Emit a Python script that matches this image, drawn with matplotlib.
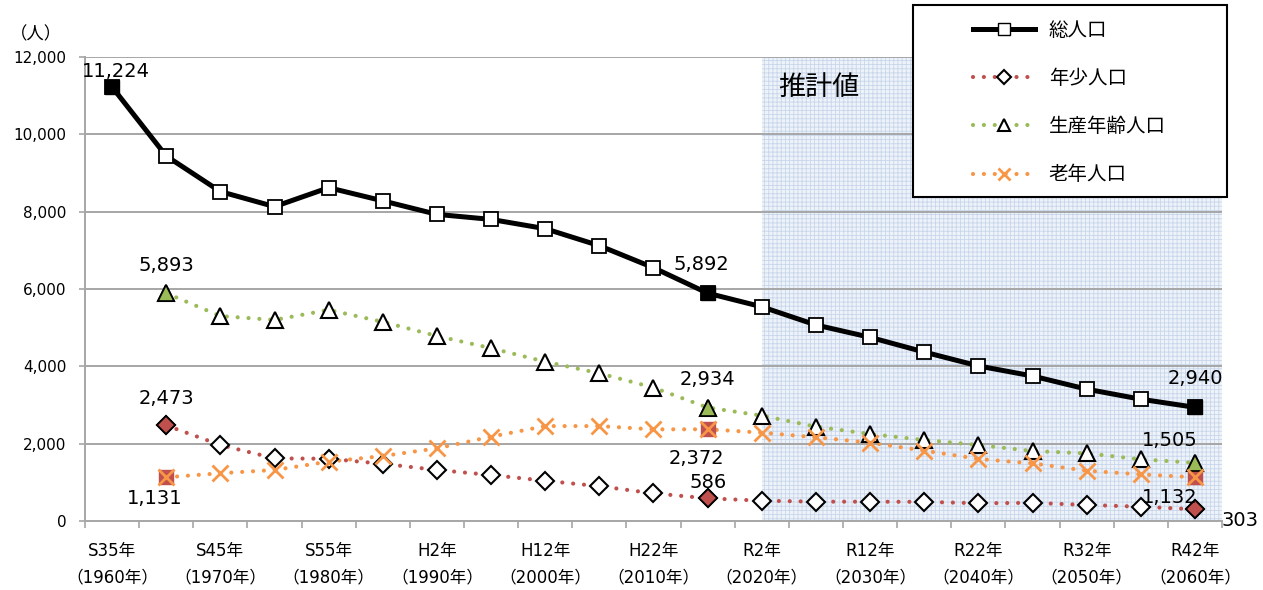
import matplotlib.pyplot as plt
from matplotlib.patches import Rectangle
from matplotlib.lines import Line2D
import numpy as np

plt.rcParams['font.family'] = ['Noto Sans CJK JP', 'DejaVu Sans']
plt.rcParams['hatch.linewidth'] = 0.6
NUM_FONT = ['DejaVu Sans', 'Noto Sans CJK JP']

# 年次 (5年刻み)
anios = [1960, 1965, 1970, 1975, 1980, 1985, 1990, 1995, 2000, 2005, 2010,
         2015, 2020, 2025, 2030, 2035, 2040, 2045, 2050, 2055, 2060]

total = [11224, 9440, 8520, 8130, 8620, 8280, 7930, 7800, 7560, 7120, 6550,
         5892, 5540, 5070, 4750, 4370, 4010, 3750, 3410, 3150, 2940]
# 1960年は内訳なし
joven = [None, 2473, 1965, 1620, 1610, 1480, 1320, 1190, 1040, 900, 715,
         586, 525, 500, 500, 495, 460, 470, 415, 370, 303]
produc = [None, 5893, 5300, 5200, 5460, 5150, 4785, 4470, 4120, 3820, 3450,
          2934, 2725, 2440, 2250, 2095, 1965, 1810, 1750, 1595, 1505]
mayor = [None, 1131, 1235, 1320, 1535, 1680, 1880, 2180, 2455, 2455, 2370,
         2372, 2285, 2165, 2025, 1820, 1605, 1490, 1300, 1205, 1132]

etiquetas_x = ['S35年\n（1960年）', 'S45年\n（1970年）', 'S55年\n（1980年）',
               'H2年\n（1990年）', 'H12年\n（2000年）', 'H22年\n（2010年）',
               'R2年\n（2020年）', 'R12年\n（2030年）', 'R22年\n（2040年）',
               'R32年\n（2050年）', 'R42年\n（2060年）']

nombres = ['総人口', '年少人口', '生産年齢人口', '老年人口']

ROJO = '#c0504d'
VERDE = '#9bbb59'
NARANJA = '#f79646'
PUNTOS = (0, (0.01, 2.6))

x = np.arange(len(anios))
inicio_estimado = anios.index(2020)


def serie(valores):
    xs = [i for i, v in enumerate(valores) if v is not None]
    ys = [v for v in valores if v is not None]
    return np.array(xs), np.array(ys, dtype=float)


fig = plt.figure(figsize=(12.63, 5.90), dpi=100)
ax = fig.add_axes([85 / 1263, 69 / 590, (1222 - 85) / 1263, (521 - 57) / 590])

# 推計値の網掛け
ax.axvspan(inicio_estimado, len(anios) - 0.5, facecolor='#eef2f9', edgecolor='#c8d6ec',
           hatch='++++', linewidth=0, zorder=0)
ax.text(inicio_estimado + 0.3, 11200, '推計値', fontsize=19.5, ha='left', va='center', zorder=1)

for yv in range(2000, 12001, 2000):
    ax.axhline(yv, color='#a6a6a6', linewidth=1.4, zorder=0.5)

# 総人口
xs, ys = serie(total)
ax.plot(xs, ys, color='black', linewidth=3.6, marker='s', markersize=9.5,
        markerfacecolor='white', markeredgecolor='black', markeredgewidth=1.3, zorder=3)
idx = [0, 11, 20]
ax.plot(xs[idx], ys[idx], linestyle='none', marker='s', markersize=9.5,
        markerfacecolor='black', markeredgecolor='black', zorder=4)

# 年少人口
xs, ys = serie(joven)
ax.plot(xs, ys, color=ROJO, linewidth=3, linestyle=PUNTOS, dash_capstyle='round', zorder=3)
ax.plot(xs, ys, linestyle='none', marker='D', markersize=9, markerfacecolor='white',
        markeredgecolor='black', markeredgewidth=1.5, zorder=4)
idx = [0, 10, 19]
ax.plot(xs[idx], ys[idx], linestyle='none', marker='D', markersize=9, markerfacecolor=ROJO,
        markeredgecolor='black', markeredgewidth=1.2, zorder=5)

# 生産年齢人口
xs, ys = serie(produc)
ax.plot(xs, ys, color=VERDE, linewidth=3, linestyle=PUNTOS, dash_capstyle='round', zorder=3)
ax.plot(xs, ys, linestyle='none', marker='^', markersize=11, markerfacecolor='white',
        markeredgecolor='black', markeredgewidth=1.5, zorder=4)
ax.plot(xs[idx], ys[idx], linestyle='none', marker='^', markersize=11, markerfacecolor=VERDE,
        markeredgecolor='black', markeredgewidth=1.2, zorder=5)

# 老年人口
xs, ys = serie(mayor)
ax.plot(xs, ys, color=NARANJA, linewidth=3, linestyle=PUNTOS, dash_capstyle='round', zorder=3)
ax.plot(xs[idx], ys[idx], linestyle='none', marker='s', markersize=10, markerfacecolor=ROJO,
        markeredgecolor=ROJO, zorder=4)
ax.plot(xs, ys, linestyle='none', marker='x', markersize=11, markeredgecolor=NARANJA,
        markeredgewidth=2, zorder=5)

# データラベル
etiquetas = [
    (0, total[0], (4, 16)), (11, total[11], (-6, 29)), (20, total[20], (0, 29)),
    (1, produc[1], (0, 28)), (11, produc[11], (0, 28)), (20, produc[20], (-25, 22)),
    (1, joven[1], (0, 27)), (11, joven[11], (0, 16)), (20, joven[20], (45, -11)),
    (1, mayor[1], (-12, -21)), (11, mayor[11], (-11, -29)), (20, mayor[20], (-25, -20)),
]
for xi, v, off in etiquetas:
    ax.annotate(f'{v:,}', (xi, v), xytext=off, textcoords='offset pixels',
                ha='center', va='center', fontsize=14, family=NUM_FONT, zorder=6)

ax.set_xlim(-0.5, len(anios) - 0.5)
ax.set_ylim(0, 12000)
ax.set_yticks(range(0, 12001, 2000))
ax.set_yticklabels([f'{v:,}' for v in range(0, 12001, 2000)], fontsize=11, family=NUM_FONT)
ax.set_xticks(np.arange(-0.5, len(anios), 1))
ax.set_xticklabels([])
ax.set_xticks(x[::2], minor=True)
ax.set_xticklabels(etiquetas_x, minor=True, fontsize=12, linespacing=1.6, family=NUM_FONT)
ax.tick_params(axis='x', which='major', length=5, color='#a6a6a6', width=1.2)
ax.tick_params(axis='x', which='minor', length=0, pad=15)
ax.tick_params(axis='y', length=4.5, color='#a6a6a6', width=1.2, pad=9)

for s in ['top', 'right']:
    ax.spines[s].set_visible(False)
for s in ['left', 'bottom']:
    ax.spines[s].set_color('#a6a6a6')
    ax.spines[s].set_linewidth(1.4)

fig.text(36 / 1263, 1 - 34 / 590, '（人）', fontsize=12.5, ha='center', va='center')

# 凡例
fig.patches.append(Rectangle((913 / 1263, 1 - 197 / 590), (1227 - 913) / 1263, (197 - 5) / 590,
                             transform=fig.transFigure, facecolor='white', edgecolor='black',
                             linewidth=1.5, zorder=10))
handles = [
    Line2D([], [], color='black', linewidth=3.6, marker='s', markersize=9,
           markerfacecolor='white', markeredgecolor='black'),
    Line2D([], [], color=ROJO, linewidth=3, linestyle=PUNTOS, dash_capstyle='round', marker='D',
           markersize=7, markerfacecolor='white', markeredgecolor='black', markeredgewidth=1.5),
    Line2D([], [], color=VERDE, linewidth=3, linestyle=PUNTOS, dash_capstyle='round', marker='^',
           markersize=9, markerfacecolor='white', markeredgecolor='black', markeredgewidth=1.5),
    Line2D([], [], color=NARANJA, linewidth=3, linestyle=PUNTOS, dash_capstyle='round', marker='x',
           markersize=9, markeredgecolor=NARANJA, markeredgewidth=2),
]
leg = fig.legend(handles, nombres, loc='upper left', bbox_to_anchor=(965 / 1263, 1 - 12 / 590),
                 frameon=False, fontsize=14, handlelength=3.2, handletextpad=0.7,
                 labelspacing=1.4, borderaxespad=0)
leg.set_zorder(11)

fig.savefig('out.png', dpi=100)
